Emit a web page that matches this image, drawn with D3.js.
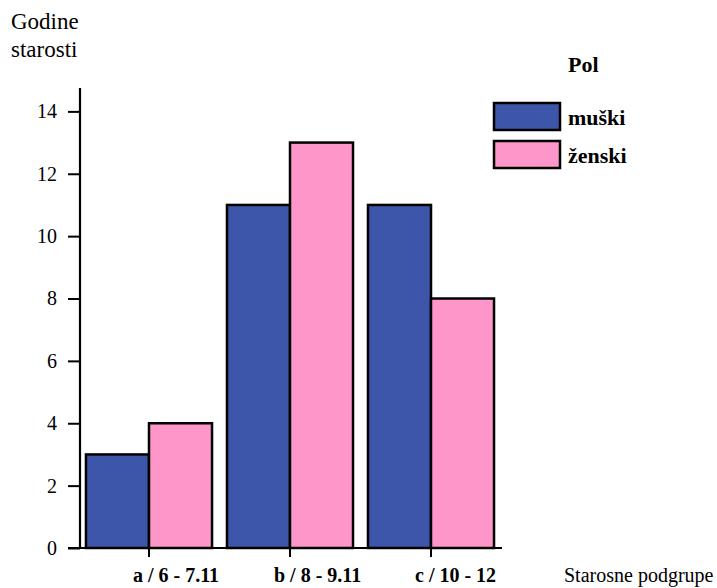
<!DOCTYPE html>
<html>
<head>
<meta charset="utf-8">
<script src="https://cdn.jsdelivr.net/npm/d3@7"></script>
<style>
html,body{margin:0;padding:0;background:#fff;}
svg{display:block;font-family:"Liberation Serif","Times New Roman",serif;}
</style>
</head>
<body>
<svg id="chart" width="717" height="588"></svg>
<script>
const categories = ["a / 6 - 7.11", "b / 8 - 9.11", "c / 10 - 12"];
const seriesNames = ["muški", "ženski"];
const muski = [3, 11, 11];
const zenski = [4, 13, 8];
const yTicks = [0, 2, 4, 6, 8, 10, 12, 14];
const colors = ["#3e56a9", "#ff96c9"];

const svg = d3.select("#chart");
const series = [muski, zenski];

const x = d3.scaleBand().domain(categories).range([78.5, 501.5])
  .paddingInner(0.106).paddingOuter(0.053);
const xs = d3.scaleBand().domain(seriesNames).range([0, x.bandwidth()]);
const y = d3.scaleLinear().domain([0, 14.75]).range([548, 88]);

// bars
const g = svg.append("g");
categories.forEach((c, i) => {
  seriesNames.forEach((s, j) => {
    g.append("rect")
      .attr("x", x(c) + xs(s))
      .attr("y", y(series[j][i]))
      .attr("width", xs.bandwidth())
      .attr("height", y(0) - y(series[j][i]))
      .attr("fill", colors[j])
      .attr("stroke", "#000")
      .attr("stroke-width", 2.5);
  });
});

// y axis
const yAxis = d3.axisLeft(y).tickValues(yTicks).tickSize(12).tickPadding(11).tickSizeOuter(0);
const ya = svg.append("g").attr("transform", "translate(80,0)").call(yAxis);
ya.select(".domain").attr("stroke-width", 2.2).attr("d", `M0,${y(14.75)}V${y(0)}`);
ya.selectAll(".tick line").attr("stroke-width", 2);
ya.selectAll("text").attr("font-size", 20).attr("font-family", "Liberation Serif").attr("fill", "#000");

// x axis
const xAxis = d3.axisBottom(x).tickSize(9).tickPadding(10).tickSizeOuter(0).tickFormat(() => "");
const xa = svg.append("g").attr("transform", `translate(0,${y(0)})`).call(xAxis);
xa.select(".domain").attr("stroke-width", 2.2).attr("d", "M68,0H502");
xa.selectAll(".tick line").attr("stroke-width", 2);
xa.selectAll(".tick text").remove();
categories.forEach(c => {
  svg.append("text")
    .attr("x", x(c) + x.bandwidth() / 2 - 16)
    .attr("y", 582)
    .attr("font-size", 20).attr("font-weight", "bold").attr("fill", "#000")
    .text(c);
});

// titles
const yt = svg.append("text").attr("font-size", 23).attr("fill", "#000");
yt.append("tspan").attr("x", 11).attr("y", 29).text("Godine");
yt.append("tspan").attr("x", 11).attr("y", 57).text("starosti");
svg.append("text").attr("x", 564).attr("y", 582).attr("font-size", 20).attr("fill", "#000").text("Starosne podgrupe");

// legend
svg.append("text").attr("x", 568).attr("y", 72).attr("font-size", 22).attr("font-weight", "bold").text("Pol");
seriesNames.forEach((s, j) => {
  const ly = 103 + j * 38;
  svg.append("rect").attr("x", 494).attr("y", ly).attr("width", 66).attr("height", 27)
    .attr("fill", colors[j]).attr("stroke", "#000").attr("stroke-width", 2.5);
  svg.append("text").attr("x", 568).attr("y", ly + 22).attr("font-size", 22)
    .attr("font-weight", "bold").text(s);
});
</script>
</body>
</html>
